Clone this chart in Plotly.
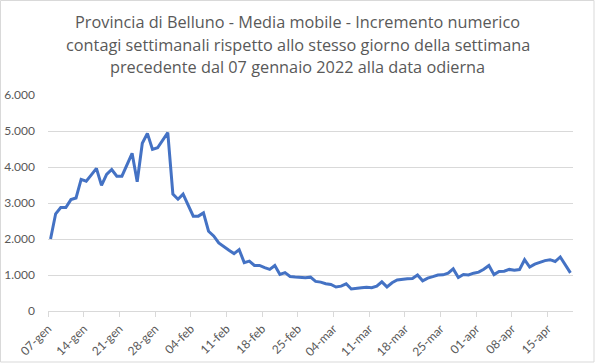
import plotly.graph_objects as go
import pandas as pd

start_date = "2022-01-07"
values = [
    2000, 2700, 2875, 2875, 3095, 3140, 3655, 3605, 3780, 3960,
    3490, 3795, 3930, 3745, 3745, 4060, 4380, 3590, 4660, 4935,
    4490, 4535, 4740, 4955, 3245, 3105, 3245, 2940, 2635, 2635,
    2725, 2215, 2085, 1890, 1775, 1685, 1595, 1705, 1345, 1385,
    1265, 1265, 1205, 1155, 1265, 1015, 1065, 960, 945, 925,
    925, 940, 822, 802, 758, 736, 665, 690, 755, 610,
    635, 645, 660, 645, 690, 810, 670, 785, 860, 885,
    895, 905, 1000, 840, 915, 955, 1000, 1005, 1050, 1170,
    930, 1015, 1000, 1050, 1080, 1160, 1265, 1010, 1100, 1105,
    1155, 1130, 1150, 1425, 1220, 1300, 1350, 1400, 1425, 1375,
    1500, 1280, 1060,
]
dates = pd.date_range(start_date, periods=len(values), freq="D")

tick_labels = ["07-gen", "14-gen", "21-gen", "28-gen", "04-feb", "11-feb",
               "18-feb", "25-feb", "04-mar", "11-mar", "18-mar", "25-mar",
               "01-apr", "08-apr", "15-apr"]
y_ticks = [0, 1000, 2000, 3000, 4000, 5000, 6000]

title_lines = [
    "Provincia di Belluno - Media mobile - Incremento numerico",
    "contagi settimanali rispetto allo stesso giorno della settimana",
    "precedente dal 07 gennaio 2022 alla data odierna",
]

half = pd.Timedelta(hours=12)
tickvals = [dates[0] - half + pd.Timedelta(days=7 * i) for i in range(len(tick_labels))]

fig = go.Figure()
fig.add_trace(go.Scatter(
    x=dates, y=values, mode="lines",
    line=dict(color="#4472C4", width=3),
    hoverinfo="skip",
))

W, H = 595, 363
L, R, T, B = 48, 22, 95, 52
pw, ph = W - L - R, H - T - B

title_font = dict(size=16.3, color="#595959", family="Open Sans, Lato, sans-serif")
annotations = []
for i, line in enumerate(title_lines):
    yc = 21.5 + 23 * i
    annotations.append(dict(
        text=line, xref="paper", yref="paper",
        x=(297.5 - L) / pw, y=(H - B - yc) / ph,
        xanchor="center", yanchor="middle", showarrow=False,
        font=title_font,
    ))

fig.update_layout(
    width=W, height=H,
    autosize=False,
    margin=dict(l=L, r=R, t=T, b=B, pad=0),
    paper_bgcolor="white", plot_bgcolor="white",
    separators=",.",
    showlegend=False,
    font=dict(family="Lato, Calibri, sans-serif", color="#595959", size=12),
    annotations=annotations,
    xaxis=dict(
        type="date",
        range=[dates[0] - half, dates[-1] + half],
        tickmode="array", tickvals=tickvals, ticktext=tick_labels,
        tickangle=-45, ticks="outside", ticklen=5, tickcolor="#d9d9d9",
        showgrid=False, zeroline=False,
        showline=True, linecolor="#d9d9d9", linewidth=1,
        tickfont=dict(size=12, color="#595959"),
        automargin=False,
        fixedrange=True,
    ),
    yaxis=dict(
        range=[0, 6000], tickvals=y_ticks, tickformat=",.0f",
        showgrid=True, gridcolor="#d9d9d9", gridwidth=1,
        zeroline=False, showline=False, ticks="",
        ticklabelstandoff=12,
        tickfont=dict(size=12, color="#595959"),
        automargin=False,
        fixedrange=True,
    ),
    shapes=[dict(
        type="rect", xref="paper", yref="paper",
        x0=(0.5 - L) / pw, x1=(W - 1 - L) / pw,
        y0=(H - B - (H - 1)) / ph, y1=(H - B - 0.5) / ph,
        line=dict(color="#d9d9d9", width=1), fillcolor="rgba(0,0,0,0)",
        layer="below",
    )],
)

fig.write_html(
    "out.html",
    config={"displayModeBar": False},
    post_script="document.body.style.margin='0px';document.body.style.padding='0px';",
)
